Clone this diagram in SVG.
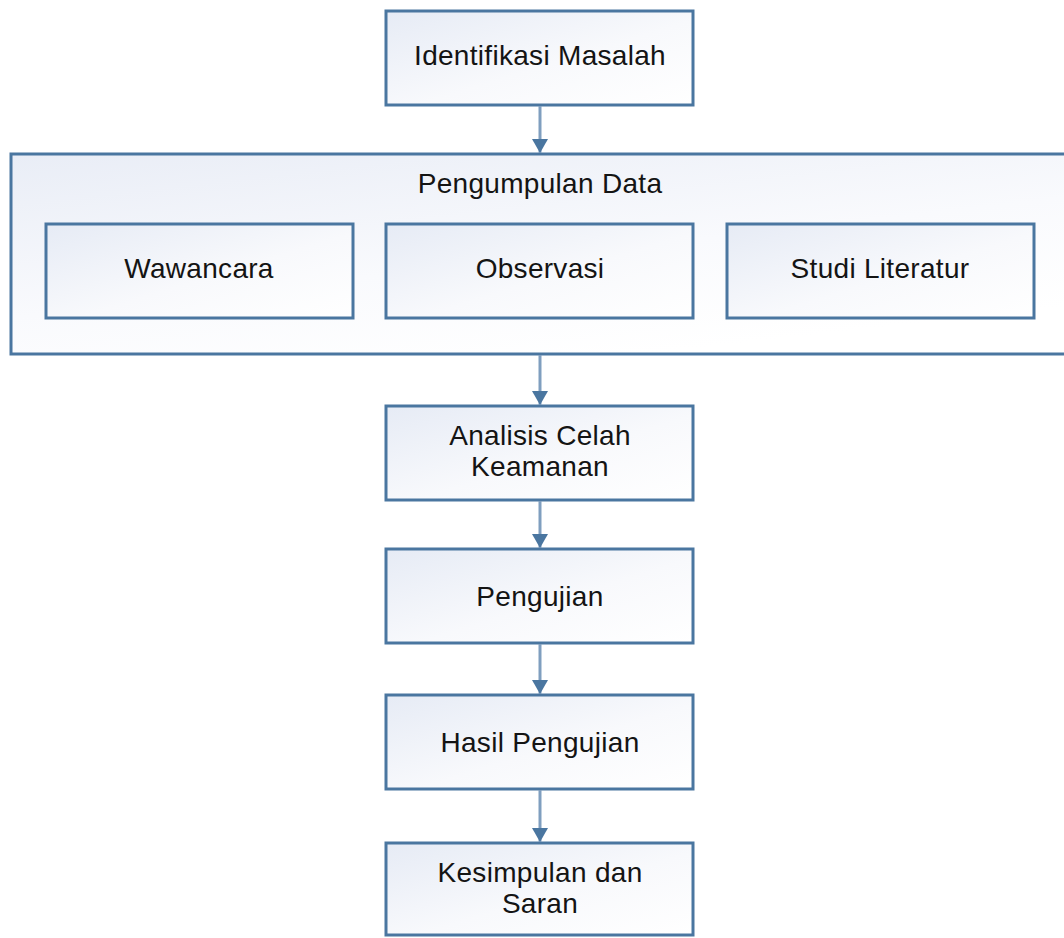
<svg xmlns="http://www.w3.org/2000/svg" width="1064" height="938" viewBox="0 0 1064 938">
  <defs>
    <linearGradient id="boxFill" x1="0" y1="0" x2="1" y2="1">
      <stop offset="0" stop-color="#e6ebf5"/>
      <stop offset="0.55" stop-color="#f8f9fc"/>
      <stop offset="1" stop-color="#ffffff"/>
    </linearGradient>
    <linearGradient id="groupFill" x1="0" y1="0" x2="0.6" y2="1">
      <stop offset="0" stop-color="#e9edf6"/>
      <stop offset="0.6" stop-color="#f9fafd"/>
      <stop offset="1" stop-color="#ffffff"/>
    </linearGradient>
    <!-- arrowhead drawn along +x so orient="auto" turns it with the line -->
    <marker id="arrow" viewBox="0 0 14 16" refX="14" refY="8" markerWidth="14" markerHeight="16" markerUnits="userSpaceOnUse" orient="auto">
      <path d="M0,0 L14,8 L0,16 Z" fill="#4a76a0"/>
    </marker>
  </defs>
  <style>
    .box { fill: url(#boxFill); stroke: #4a76a0; stroke-width: 3; }
    .group { fill: url(#groupFill); stroke: #4a76a0; stroke-width: 3; }
    .label { font-family: "Liberation Sans", Arial, sans-serif; font-size: 28px; letter-spacing: 0.3px; fill: #141414; text-anchor: middle; }
    .conn { stroke: #7f9ebf; stroke-width: 3; fill: none; }
  </style>
  <rect width="1064" height="938" fill="#ffffff"/>

  <g id="identifikasi">
    <rect class="box" x="386" y="11" width="307" height="94"/>
    <text class="label" x="540" y="65">Identifikasi Masalah</text>
  </g>

  <g id="pengumpulan">
    <rect class="group" x="11" y="154" width="1060" height="200"/>
    <text class="label" x="540" y="193">Pengumpulan Data</text>
  </g>

  <g id="wawancara">
    <rect class="box" x="46" y="224" width="307" height="94"/>
    <text class="label" x="199" y="278">Wawancara</text>
  </g>

  <g id="observasi">
    <rect class="box" x="386" y="224" width="307" height="94"/>
    <text class="label" x="540" y="278">Observasi</text>
  </g>

  <g id="studi">
    <rect class="box" x="727" y="224" width="307" height="94"/>
    <text class="label" x="880" y="278">Studi Literatur</text>
  </g>

  <g id="analisis">
    <rect class="box" x="386" y="406" width="307" height="94"/>
    <text class="label" x="540" y="445">Analisis Celah</text>
    <text class="label" x="540" y="476">Keamanan</text>
  </g>

  <g id="pengujian">
    <rect class="box" x="386" y="549" width="307" height="94"/>
    <text class="label" x="540" y="606">Pengujian</text>
  </g>

  <g id="hasil">
    <rect class="box" x="386" y="695" width="307" height="94"/>
    <text class="label" x="540" y="752">Hasil Pengujian</text>
  </g>

  <g id="kesimpulan">
    <rect class="box" x="386" y="843" width="307" height="92"/>
    <text class="label" x="540" y="882">Kesimpulan dan</text>
    <text class="label" x="540" y="913">Saran</text>
  </g>

  <g id="connectors">
    <line class="conn" x1="540" y1="106" x2="540" y2="153" marker-end="url(#arrow)"/>
    <line class="conn" x1="540" y1="355" x2="540" y2="405" marker-end="url(#arrow)"/>
    <line class="conn" x1="540" y1="501" x2="540" y2="548" marker-end="url(#arrow)"/>
    <line class="conn" x1="540" y1="644" x2="540" y2="694" marker-end="url(#arrow)"/>
    <line class="conn" x1="540" y1="790" x2="540" y2="842" marker-end="url(#arrow)"/>
  </g>
</svg>
